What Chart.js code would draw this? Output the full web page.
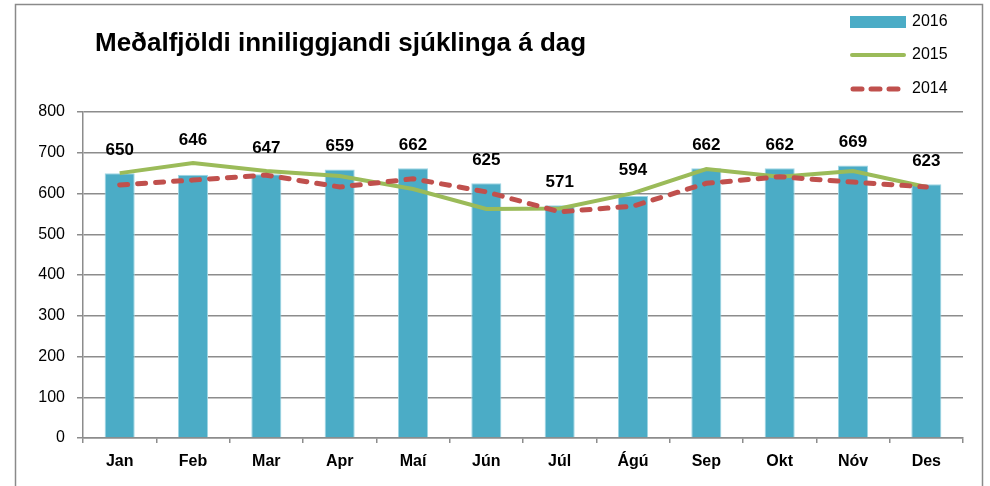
<!DOCTYPE html>
<html>
<head>
<meta charset="utf-8">
<script src="https://cdn.jsdelivr.net/npm/chart.js@4/dist/chart.umd.min.js"></script>
<style>
  html, body { margin: 0; padding: 0; background: #fff; }
  #wrap { position: relative; width: 990px; height: 486px; }
</style>
</head>
<body>
<div id="wrap"><canvas id="chart" width="990" height="486"></canvas></div>
<script>
const months = ['Jan', 'Feb', 'Mar', 'Apr', 'Maí', 'Jún', 'Júl', 'Ágú', 'Sep', 'Okt', 'Nóv', 'Des'];
const values2016 = [650, 646, 647, 659, 662, 625, 571, 594, 662, 662, 669, 623];
const values2015 = [650, 675, 655, 643, 611, 562, 563, 601, 660, 641, 655, 616];
const values2014 = [621, 633, 645, 616, 636, 604, 555, 569, 625, 641, 628, 616];
const yTicks = [0, 100, 200, 300, 400, 500, 600, 700, 800];
const title = 'Meðalfjöldi inniliggjandi sjúklinga á dag';

const FONT = "'Liberation Sans', Arial, sans-serif";
const BLUE = '#4BACC6', GREEN = '#9BBB59', RED = '#C0504D', GRID = '#8c8c8c';

// frame, title, legend and bar value labels
const decor = {
  id: 'decor',
  beforeDraw(chart) {
    const ctx = chart.ctx;
    ctx.save();
    ctx.strokeStyle = '#8a8a8a';
    ctx.lineWidth = 1.5;
    ctx.strokeRect(15.5, 4.5, 967, 520);
    ctx.restore();
  },
  afterDraw(chart) {
    const ctx = chart.ctx;
    ctx.save();
    ctx.fillStyle = '#000';
    ctx.font = 'bold 26px ' + FONT;
    ctx.textBaseline = 'alphabetic';
    ctx.textAlign = 'left';
    ctx.fillText(title, 95, 51);

    // legend
    ctx.font = '16px ' + FONT;
    ctx.textBaseline = 'middle';
    ctx.fillStyle = BLUE;
    ctx.fillRect(850, 16, 56, 12);
    ctx.fillStyle = '#000';
    ctx.fillText('2016', 912, 22);
    ctx.lineCap = 'round';
    ctx.strokeStyle = GREEN;
    ctx.lineWidth = 4;
    ctx.beginPath(); ctx.moveTo(852, 55); ctx.lineTo(904, 55); ctx.stroke();
    ctx.fillText('2015', 912, 55);
    ctx.strokeStyle = RED;
    ctx.lineWidth = 5;
    ctx.setLineDash([9, 9]);
    ctx.beginPath(); ctx.moveTo(853, 89); ctx.lineTo(906, 89); ctx.stroke();
    ctx.setLineDash([]);
    ctx.fillText('2014', 912, 89);

    // value labels above bars
    ctx.font = 'bold 17px ' + FONT;
    ctx.textAlign = 'center';
    const bars = chart.getDatasetMeta(0).data;
    const l1 = chart.getDatasetMeta(1).data;
    const l2 = chart.getDatasetMeta(2).data;
    bars.forEach((b, i) => {
      const top = Math.min(b.y, l1[i].y, l2[i].y);
      ctx.fillText(String(values2016[i]), b.x, top - 23);
    });
    ctx.restore();
  }
};

new Chart(document.getElementById('chart'), {
  type: 'bar',
  data: {
    labels: months,
    datasets: [
      { label: '2016', data: values2016, backgroundColor: BLUE, borderColor: '#9fd6e4', borderWidth: 1,
        categoryPercentage: 1, barPercentage: 0.41, order: 3 },
      { type: 'line', label: '2015', data: values2015, borderColor: GREEN, borderWidth: 4,
        pointRadius: 0, tension: 0, fill: false, order: 2 },
      { type: 'line', label: '2014', data: values2014, borderColor: RED, borderWidth: 5,
        borderDash: [8, 10], borderCapStyle: 'round', pointRadius: 0, tension: 0, fill: false, order: 1 }
    ]
  },
  options: {
    responsive: false,
    animation: false,
    layout: { padding: { top: 112, right: 27, left: 0, bottom: 0 } },
    plugins: { legend: { display: false }, title: { display: false }, tooltip: { enabled: false } },
    scales: {
      x: {
        grid: { drawOnChartArea: false, drawTicks: true, tickLength: 5, color: GRID, lineWidth: 1.5 },
        border: { color: GRID, width: 1.5 },
        ticks: { color: '#000', font: { family: FONT, size: 16, weight: 'bold' }, padding: 9 },
        afterFit: s => { s.height = 48; }
      },
      y: {
        min: 0, max: 800,
        afterBuildTicks: s => { s.ticks = yTicks.map(v => ({ value: v })); },
        grid: { color: GRID, lineWidth: 1.5, tickLength: 6 },
        border: { color: GRID, width: 1.5 },
        ticks: { color: '#000', font: { family: FONT, size: 16 }, padding: 12 },
        afterFit: s => { s.width = 83; }
      }
    }
  },
  plugins: [decor]
});
</script>
</body>
</html>
